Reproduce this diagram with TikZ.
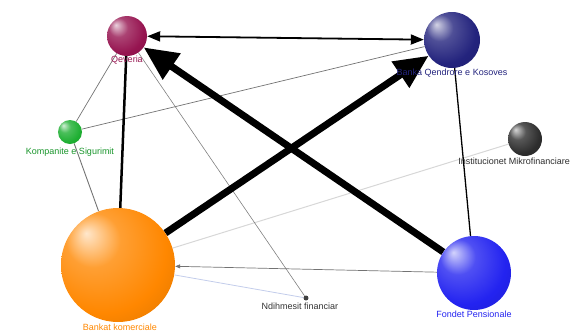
\documentclass[tikz,border=0pt]{standalone}
\usepackage{fontspec}
\setmainfont{Liberation Sans}
\usetikzlibrary{arrows.meta}
\pgfdeclareradialshading[sphcol]{sph}{\pgfqpoint{-14bp}{14bp}}{color(0bp)=(sphcol!20!white); color(12bp)=(sphcol!80!white); color(28bp)=(sphcol); color(40bp)=(sphcol!88!black); color(55bp)=(sphcol!75!black)}
\definecolor{cqev}{RGB}{150,20,80}
\definecolor{cbqk}{RGB}{35,35,125}
\definecolor{ckom}{RGB}{30,175,50}
\definecolor{cins}{RGB}{45,45,45}
\definecolor{cban}{RGB}{255,135,0}
\definecolor{cfon}{RGB}{35,35,240}
\definecolor{cfaint}{RGB}{215,215,215}
\definecolor{cbluish}{RGB}{195,205,235}
\tikzset{
  globe/.style={circle, inner sep=0pt, minimum size=#1},
  shadecol/.style={/utils/exec={\colorlet{sphcol}{#1}}, shading=sph},
  lbl/.style={font=\fontsize{9}{10}\selectfont, inner sep=0pt},
  thin edge/.style={draw=black!55, line width=0.7pt},
  big arrow/.style={draw=black, line width=7pt, -{Triangle[length=34pt,width=30pt]}},
}
\begin{document}
\begin{tikzpicture}[x=1pt,y=-1pt]
\useasboundingbox (0,0) rectangle (571,333);
% nodes (placed first so edges can refer to them; shaded later on top)
\node[globe=40pt] (qev) at (127,36) {};
\node[globe=56pt] (bqk) at (452,40) {};
\node[globe=24pt] (kom) at (70,132) {};
\node[globe=34pt] (ins) at (525,139) {};
\node[globe=114pt] (ban) at (118,265) {};
\node[globe=5pt] (ndi) at (306,298) {};
\node[globe=74pt] (fon) at (474,273) {};
% edges
\draw[draw=cfaint, line width=1pt] (ins.center) -- (ban);
\draw[draw=cbluish, line width=0.8pt] (ban) -- (ndi);
\draw[thin edge] (qev) -- (kom);
\draw[thin edge] (kom) -- (bqk);
\draw[thin edge, line width=0.9pt] (kom) -- (ban);
\draw[thin edge, draw=black!50, line width=0.6pt] (qev) -- (ndi);
\draw[thin edge, -{Triangle[length=5pt,width=4pt]}] (fon) -- (ban);
\draw[draw=black, line width=1.3pt] (bqk) -- (fon);
\draw[draw=black, line width=2.5pt] (qev) -- (ban);
\draw[draw=black, line width=1.8pt, {Triangle[length=13pt,width=10pt]}-{Triangle[length=13pt,width=10pt]}] (qev) -- (bqk);
\draw[big arrow] (fon) -- (qev);
\draw[big arrow] (ban) -- (bqk);
% spheres
\shade[shadecol=cqev] (qev.center) circle (20pt);
\shade[shadecol=cbqk] (bqk.center) circle (28pt);
\shade[shadecol=ckom] (kom.center) circle (12pt);
\shade[shadecol=cins] (ins.center) circle (17pt);
\shade[shadecol=cban] (ban.center) circle (57pt);
\shade[shadecol=cfon] (fon.center) circle (37pt);
\fill[black!75] (ndi.center) circle (2.5pt);
% labels
\node[lbl, text=cqev] (qevL) at (127,60) {Qeveria};
\node[lbl, text=cbqk] (bqkL) at (452,73) {Banka Qendrore e Kosoves};
\node[lbl, text=ckom!85!black] (komL) at (70,152) {Kompanite e Sigurimit};
\node[lbl, text=cins, anchor=east] (insL) at (570,161) {Institucionet Mikrofinanciare};
\node[lbl, text=cban] (banL) at (120,327) {Bankat komerciale};
\node[lbl, text=black!80] (ndiL) at (300,306) {Ndihmesit financiar};
\node[lbl, text=cfon] (fonL) at (474,314) {Fondet Pensionale};
\end{tikzpicture}
\end{document}
